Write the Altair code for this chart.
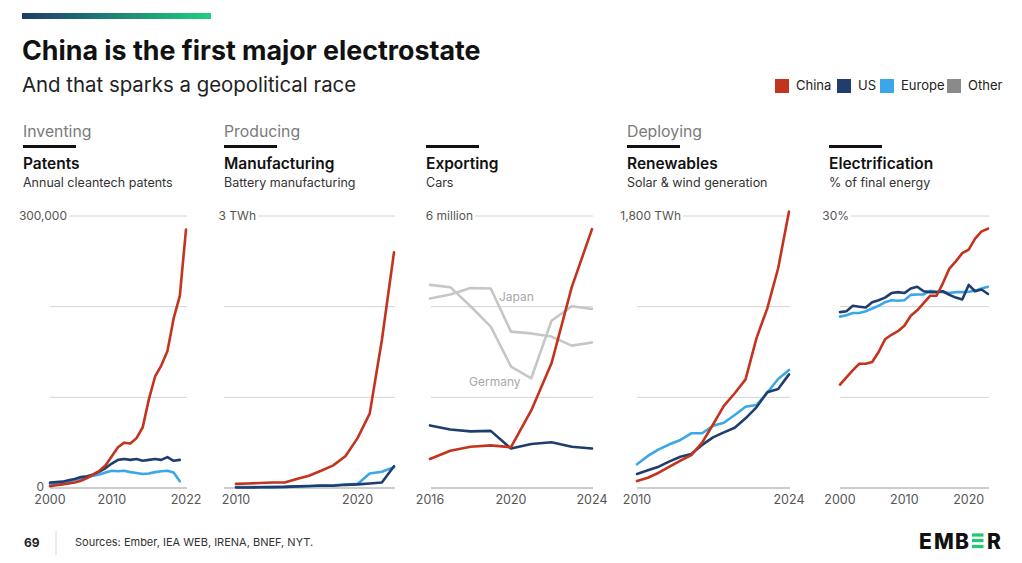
import altair as alt
import pandas as pd

# ---------------- data ----------------
pat_years = list(range(2000, 2023))
pat_china = [2000, 3000, 4000, 5000, 6000, 8000, 11000, 15000, 19000, 25000, 35000, 45000,
             50000, 49000, 55000, 67000, 98000, 123000, 135000, 151000, 187000, 212000, 285000]
pat_years_short = list(range(2000, 2022))
pat_us = [6000, 6500, 7000, 8500, 10000, 12000, 13000, 15000, 18000, 22000, 27000, 31000,
          32000, 31000, 32000, 30000, 31000, 32000, 31000, 34000, 30000, 31000]
pat_europe = [4500, 5000, 5500, 6500, 9000, 10500, 12000, 13500, 15000, 17000, 19000, 18500,
              19000, 17500, 16500, 15500, 16000, 17500, 18500, 19000, 17000, 7500]

bat_years = list(range(2010, 2024))
bat_china = [0.045, 0.05, 0.055, 0.06, 0.06, 0.1, 0.135, 0.19, 0.25, 0.35, 0.55, 0.82, 1.63, 2.6]
bat_us = [0.005, 0.005, 0.008, 0.01, 0.012, 0.018, 0.022, 0.028, 0.025, 0.035, 0.04, 0.05, 0.06, 0.24]
bat_europe = [0.01, 0.01, 0.01, 0.01, 0.012, 0.015, 0.02, 0.025, 0.03, 0.038, 0.045, 0.16, 0.18, 0.23]

car_years = list(range(2016, 2025))
car_china = [0.64, 0.82, 0.91, 0.94, 0.90, 1.71, 2.75, 4.43, 5.71]
car_us = [1.38, 1.29, 1.25, 1.26, 0.87, 0.97, 1.01, 0.91, 0.87]
car_germany = [4.48, 4.43, 4.01, 3.56, 2.68, 2.42, 3.69, 4.01, 3.95]
car_japan = [4.18, 4.27, 4.41, 4.40, 3.45, 3.41, 3.34, 3.14, 3.21]

ren_years = list(range(2010, 2025))
ren_china = [46, 68, 101, 141, 181, 218, 300, 420, 543, 627, 719, 990, 1189, 1454, 1830]
ren_us = [93, 117, 141, 176, 207, 225, 285, 335, 368, 399, 461, 534, 633, 655, 752]
ren_europe = [157, 212, 256, 289, 318, 362, 362, 412, 432, 483, 538, 549, 631, 721, 781]

ele_years = list(range(2000, 2024))
ele_china = [11.4, 12.2, 13.0, 13.7, 13.7, 13.9, 15.0, 16.4, 16.9, 17.3, 17.9, 19.0, 19.6, 20.4,
             21.2, 21.2, 22.6, 24.2, 25.0, 25.9, 26.3, 27.5, 28.3, 28.6]
ele_us = [19.4, 19.5, 20.1, 20.0, 19.9, 20.5, 20.7, 21.0, 21.5, 21.6, 21.5, 22.0, 22.2, 21.7,
          21.6, 21.6, 21.7, 21.3, 21.0, 20.8, 22.4, 21.7, 21.9, 21.4]
ele_europe = [18.9, 19.05, 19.3, 19.3, 19.5, 19.8, 20.1, 20.5, 20.7, 20.65, 20.7, 21.3, 21.35, 21.35,
              21.75, 21.65, 21.6, 21.5, 21.6, 21.6, 21.65, 21.75, 22.0, 22.2]

legend_names = ["China", "US", "Europe", "Other"]
sections = ["Inventing", "Producing", "Deploying"]
panel_titles = ["Patents", "Manufacturing", "Exporting", "Renewables", "Electrification"]
panel_subtitles = ["Annual cleantech patents", "Battery manufacturing", "Cars",
                   "Solar & wind generation", "% of final energy"]

# ---------------- style ----------------
RED, NAVY, BLUE = "#c3331d", "#1f3e6e", "#3ba7e8"
GRAYLINE, LEGGRAY = "#c6c6c6", "#8a8a8a"
GRID, BASE = "#d4d4d4", "#9a9a9a"
FONT = "Inter"
O = 8  # page margin


def X(v):
    return v - O


def Y(v):
    return v - O


def text(t, x, y, size=12, color="#222", weight="normal", align="left", baseline="alphabetic"):
    return alt.Chart(pd.DataFrame({"t": [t]})).mark_text(
        font=FONT, fontSize=size, color=color, fontWeight=weight, align=align, baseline=baseline
    ).encode(x=alt.value(X(x)), y=alt.value(Y(y)), text="t:N")


def hrule(x0, x1, y, color, width):
    return alt.Chart(pd.DataFrame({"a": [0]})).mark_rule(color=color, strokeWidth=width).encode(
        x=alt.value(X(x0)), x2=alt.value(X(x1)), y=alt.value(Y(y)))


def panel(years_dom, series, px0, px1, ymax, mids, top_label, top_right, grid_x0, ticks,
          zero_label=None):
    xs = alt.Scale(domain=years_dom, range=[X(px0), X(px1)])
    ys = alt.Scale(domain=[0, ymax], range=[Y(488), Y(216)])
    layers = []
    layers.append(alt.Chart(pd.DataFrame({"v": mids})).mark_rule(color=GRID, strokeWidth=1).encode(
        y=alt.Y("v:Q", scale=ys, axis=None), x=alt.value(X(grid_x0)), x2=alt.value(X(px1 + 1))))
    layers.append(alt.Chart(pd.DataFrame({"v": [ymax]})).mark_rule(color=GRID, strokeWidth=1).encode(
        y=alt.Y("v:Q", scale=ys, axis=None), x=alt.value(X(top_right + 2)), x2=alt.value(X(px1 + 1))))
    layers.append(alt.Chart(pd.DataFrame({"v": [0]})).mark_rule(color=BASE, strokeWidth=1).encode(
        y=alt.Y("v:Q", scale=ys, axis=None), x=alt.value(X(grid_x0)), x2=alt.value(X(px1 + 1))))
    for yrs, vals, col in series:
        layers.append(alt.Chart(pd.DataFrame({"year": yrs, "value": vals})).mark_line(
            color=col, strokeWidth=2.6, strokeJoin="round", strokeCap="round").encode(
            x=alt.X("year:Q", scale=xs, axis=None), y=alt.Y("value:Q", scale=ys, axis=None)))
    layers.append(alt.Chart(pd.DataFrame({"year": ticks, "lab": [str(t) for t in ticks]})).mark_text(
        font=FONT, fontSize=12.5, color="#555", baseline="middle").encode(
        x=alt.X("year:Q", scale=xs, axis=None), y=alt.value(Y(500)), text="lab:N"))
    layers.append(alt.Chart(pd.DataFrame({"v": [ymax], "t": [top_label]})).mark_text(
        font=FONT, fontSize=12, color="#555", align="right", baseline="middle").encode(
        x=alt.value(X(top_right)), y=alt.Y("v:Q", scale=ys, axis=None), text="t:N"))
    if zero_label:
        layers.append(alt.Chart(pd.DataFrame({"v": [0], "t": [zero_label]})).mark_text(
            font=FONT, fontSize=12, color="#555", align="right", baseline="middle", dy=-1).encode(
            x=alt.value(X(44)), y=alt.Y("v:Q", scale=ys, axis=None), text="t:N"))
    return alt.layer(*layers)


p1 = panel([2000, 2022], [(pat_years_short, pat_europe, BLUE), (pat_years_short, pat_us, NAVY),
                          (pat_years, pat_china, RED)],
           50, 186, 300000, [100000, 200000], "300,000", 67, 50, [2000, 2010, 2022], zero_label="0")
p2 = panel([2010, 2023], [(bat_years, bat_europe, BLUE), (bat_years, bat_us, NAVY),
                          (bat_years, bat_china, RED)],
           236, 394, 3, [1, 2], "3 TWh", 256, 224, [2010, 2020])
p3 = panel([2016, 2024], [(car_years, car_germany, GRAYLINE), (car_years, car_japan, GRAYLINE),
                          (car_years, car_us, NAVY), (car_years, car_china, RED)],
           430, 592, 6, [2, 4], "6 million", 473, 431, [2016, 2020, 2024])
p4 = panel([2010, 2024], [(ren_years, ren_europe, BLUE), (ren_years, ren_us, NAVY),
                          (ren_years, ren_china, RED)],
           637, 789, 1800, [600, 1200], "1,800 TWh", 681, 637, [2010, 2024])
p5 = panel([2000, 2023], [(ele_years, ele_europe, BLUE), (ele_years, ele_us, NAVY),
                          (ele_years, ele_china, RED)],
           840, 988, 30, [10, 20], "30%", 849, 840, [2000, 2010, 2020])

decor = []
# top gradient bar
decor.append(alt.Chart(pd.DataFrame({"a": [0]})).mark_rect(
    color=alt.Gradient(gradient="linear", x1=0, x2=1, y1=0, y2=0,
                       stops=[alt.GradientStop(color="#1f3a6e", offset=0),
                              alt.GradientStop(color="#1fd07c", offset=1)])).encode(
    x=alt.value(X(22)), x2=alt.value(X(211)), y=alt.value(Y(13)), y2=alt.value(Y(19))))
decor.append(text("China is the first major electrostate", 22, 60, size=26.8, color="#111", weight="bold"))
decor.append(text("And that sparks a geopolitical race", 22, 92, size=20.4, color="#222"))

# legend
leg_cols = [RED, NAVY, BLUE, LEGGRAY]
leg_sq = [775, 837, 880, 947]
for name, col, sx in zip(legend_names, leg_cols, leg_sq):
    decor.append(alt.Chart(pd.DataFrame({"a": [0]})).mark_rect(color=col).encode(
        x=alt.value(X(sx)), x2=alt.value(X(sx + 14)), y=alt.value(Y(79)), y2=alt.value(Y(93))))
    decor.append(text(name, sx + 21, 86, size=13, color="#222", baseline="middle"))

# section headers
for name, sx in zip(sections, [23, 224, 627]):
    decor.append(text(name, sx, 137, size=15.8, color="#7a7a7a"))
for title, sub, sx in zip(panel_titles, panel_subtitles, [23, 224, 426, 627, 829]):
    decor.append(hrule(sx, sx + 53, 146.5, "#111", 3))
    decor.append(text(title, sx, 169, size=15.5, color="#111", weight=600))
    decor.append(text(sub, sx, 187, size=12.5, color="#333"))

# annotations in exporting panel
decor.append(text("Japan", 499, 297, size=12, color="#a8a8a8", baseline="middle"))
decor.append(text("Germany", 469, 382, size=12, color="#a8a8a8", baseline="middle"))

# footer
decor.append(text("69", 24, 543, size=12, color="#222", weight="bold", baseline="middle"))
decor.append(alt.Chart(pd.DataFrame({"a": [0]})).mark_rule(color="#d6dcd8", strokeWidth=1).encode(
    x=alt.value(X(56)), y=alt.value(Y(531)), y2=alt.value(Y(556))))
decor.append(text("Sources: Ember, IEA WEB, IRENA, BNEF, NYT.", 75, 543, size=11, color="#333",
                  baseline="middle"))
for letter, lx in zip(["E", "M", "B", "R"], [919, 934, 955, 987]):
    decor.append(text(letter, lx, 548.5, size=21, color="#111", weight=800))
for by in [535, 540.5, 546.5]:
    decor.append(hrule(972, 983.5, by, "#22c873", 3.3))

chart = alt.layer(p1, p2, p3, p4, p5, *decor).resolve_scale(
    x="independent", y="independent"
).properties(
    width=1006, height=547, autosize=alt.AutoSizeParams(type="none"), padding=0
).configure_view(stroke=None)

chart.save("out.html", embed_options={"renderer": "svg", "actions": False})
